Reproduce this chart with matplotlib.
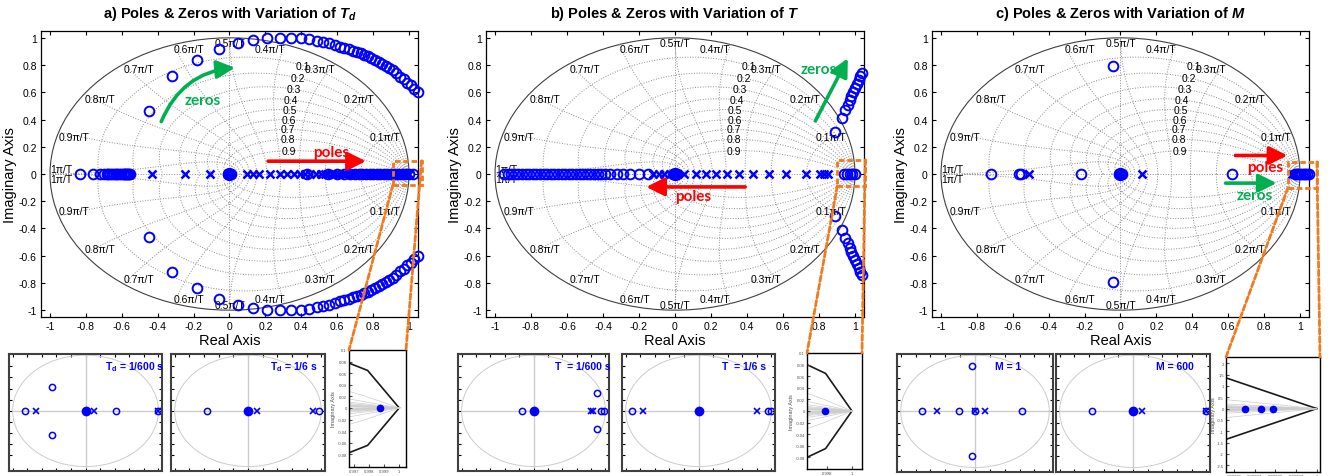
import numpy as np
import matplotlib
matplotlib.use("Agg")
import matplotlib.pyplot as plt
from matplotlib.patches import Rectangle, ConnectionPatch

plt.rcParams['font.family'] = ['Liberation Sans', 'DejaVu Sans']
plt.rcParams['mathtext.fontset'] = 'custom'
plt.rcParams['mathtext.it'] = 'Liberation Sans:italic:bold'
plt.rcParams['mathtext.rm'] = 'Liberation Sans:bold'
plt.rcParams['mathtext.bf'] = 'Liberation Sans:bold'

# ---------------- data ----------------
ZETAS = [0.1, 0.2, 0.3, 0.4, 0.5, 0.6, 0.7, 0.8, 0.9]
WN_FRACS = [0.1, 0.2, 0.3, 0.4, 0.5, 0.6, 0.7, 0.8, 0.9, 1.0]
TICKS = [-1, -0.8, -0.6, -0.4, -0.2, 0, 0.2, 0.4, 0.6, 0.8, 1]

titles = [r"a) Poles & Zeros with Variation of $T_d$",
          r"b) Poles & Zeros with Variation of $T$",
          r"c) Poles & Zeros with Variation of $M$"]

# panel a
a_zero_axis = [-0.83, -0.76, -0.72, -0.70, -0.685, -0.675, -0.665, -0.655, -0.645,
               -0.635, -0.625, -0.615, -0.605, -0.595, -0.588, -0.581, -0.575,
               -0.569, -0.564, -0.559, -0.555,
               -0.01, -0.005, 0.0, 0.005, 0.01,
               0.43, 0.55, 0.60, 0.64, 0.67, 0.70, 0.72, 0.74, 0.76, 0.78, 0.80,
               0.82, 0.84, 0.86, 0.88, 0.90, 0.92, 0.94, 0.96, 0.98, 1.0, 1.02]
a_zero_arc_re = [-0.45, -0.32, -0.18, -0.06, 0.045, 0.13, 0.21, 0.28, 0.345, 0.40,
                 0.445, 0.485, 0.52, 0.555, 0.585, 0.615, 0.64, 0.665, 0.69, 0.71,
                 0.73, 0.75, 0.77, 0.79, 0.81, 0.83, 0.85, 0.87, 0.89, 0.91, 0.93,
                 0.95, 0.97, 0.99, 1.01, 1.03, 1.05]
a_zero_arc_im = [0.46, 0.72, 0.84, 0.92, 0.965, 0.985, 0.995, 1.0, 1.0, 0.995,
                 0.99, 0.98, 0.97, 0.96, 0.95, 0.935, 0.925, 0.915, 0.905, 0.895,
                 0.885, 0.875, 0.865, 0.85, 0.84, 0.825, 0.81, 0.79, 0.775, 0.76,
                 0.74, 0.715, 0.695, 0.67, 0.65, 0.625, 0.60]
a_pole_axis = [-0.43, -0.25, -0.11, 0.0, 0.095, 0.13, 0.165, 0.225, 0.28, 0.32, 0.36,
               0.39, 0.42, 0.45, 0.48, 0.51, 0.53, 0.55, 0.57, 0.59, 0.61, 0.63,
               0.65, 0.67, 0.69, 0.71, 0.73, 0.75, 0.77, 0.79, 0.81, 0.83, 0.85,
               0.87, 0.89, 0.91, 0.93, 0.95, 0.97, 0.99, 1.0]

# panel b
b_zero_axis = [-0.95, -0.93, -0.91, -0.89, -0.87, -0.85, -0.83, -0.81, -0.79, -0.77,
               -0.75, -0.73, -0.71, -0.69, -0.67, -0.65, -0.63, -0.61, -0.59, -0.57,
               -0.55, -0.53, -0.51, -0.49, -0.47, -0.45, -0.43, -0.41, -0.39, -0.36,
               -0.32, -0.29, -0.25, -0.20, -0.15,
               -0.01, -0.005, 0.0, 0.005, 0.01,
               0.94, 0.955, 0.97, 0.985, 1.0]
b_zero_arc_re = [0.89, 0.925, 0.945, 0.96, 0.97, 0.98, 0.99, 1.0, 1.01, 1.02, 1.03, 1.04]
b_zero_arc_im = [0.31, 0.41, 0.47, 0.51, 0.54, 0.57, 0.60, 0.63, 0.66, 0.69, 0.72, 0.745]
b_pole_axis = [-0.12, -0.09, -0.06, -0.03, 0.0, 0.05, 0.115, 0.17, 0.225, 0.29, 0.355,
               0.435, 0.52, 0.615, 0.725, 0.805, 0.83, 0.85]

# panel c
c_zero_axis = [-0.72, -0.565, -0.555, -0.22, -0.01, -0.005, 0.0, 0.005, 0.01, 0.62,
               0.97, 0.98, 0.99, 1.0, 1.01, 1.02, 1.03, 1.04, 1.05]
c_zero_arc_re = [-0.04]
c_zero_arc_im = [0.79]
c_pole_axis = [-0.51, 0.0, 0.12, 0.955, 0.965]

# small insets: zeros (re, im), poles re, filled dot re, label, label x
a1 = dict(zr=[-0.836, -0.46, -0.46, 0.42, 0.99], zi=[0, 0.43, -0.43, 0, 0],
          pr=[-0.675, 0.114, 0.99], dot=[0.0], label=r"T$_\mathrm{d}$ = 1/600 s", lx=0.67)
a2 = dict(zr=[-0.557, 0.97], zi=[0, 0], pr=[0.117, 0.88], dot=[0.0],
          label=r"T$_\mathrm{d}$ = 1/6 s", lx=0.62)
b1 = dict(zr=[-0.16, 0.88, 0.88, 0.94, 0.98], zi=[0, 0.32, -0.32, 0, 0],
          pr=[0.80, 0.83], dot=[0.0], label="T  = 1/600 s", lx=0.68)
b2 = dict(zr=[-0.91, 0.95, 0.99], zi=[0, 0, 0], pr=[-0.76, 0.80], dot=[0.0],
          label="T  = 1/6 s", lx=0.62)
c1 = dict(zr=[-0.72, -0.21, 0.0, 0.63, -0.04, -0.04], zi=[0, 0, 0, 0, 0.8, -0.8],
          pr=[-0.51, 0.0, 0.13], dot=[], label="M = 1", lx=0.45)
c2 = dict(zr=[-0.555, 1.0], zi=[0, 0], pr=[0.12, 1.0], dot=[0.0],
          label="M = 600", lx=0.57)

# zoomed insets
a3_dots = [0.9987]
b3_dots = [0.99786]
c3_dots = [0.999965, 0.999973, 0.999979]

BLUE = '#0000ff'
GREEN = '#00b050'
RED = '#ff0000'
ORANGE = '#f07a1e'

W, H = 1334, 477
fig = plt.figure(figsize=(W / 100, H / 100), dpi=100)


def px_axes(x0, y0, x1, y1):
    return fig.add_axes([x0 / W, 1 - y1 / H, (x1 - x0) / W, (y1 - y0) / H])


def zgrid(ax, ys=1.0, ls=':', gcolor='0.55', glw=0.7, ccolor='0.25', clw=0.8,
          labels=True):
    th = np.linspace(0, 2 * np.pi, 98)
    ax.plot(np.cos(th), np.sin(th) * ys, color=ccolor, lw=clw, zorder=1)
    for zeta in ZETAS:
        w = np.linspace(0, np.pi / np.sqrt(1 - zeta ** 2), 150)
        z = np.exp(w * (-zeta + 1j * np.sqrt(1 - zeta ** 2)))
        ax.plot(z.real, z.imag * ys, ls, color=gcolor, lw=glw, zorder=1)
        ax.plot(z.real, -z.imag * ys, ls, color=gcolor, lw=glw, zorder=1)
    for f in WN_FRACS:
        wn = f * np.pi
        zt = np.linspace(0, 1, 80)
        z = np.exp(wn * (-zt + 1j * np.sqrt(1 - zt ** 2)))
        ax.plot(z.real, z.imag * ys, ls, color=gcolor, lw=glw, zorder=1)
        ax.plot(z.real, -z.imag * ys, ls, color=gcolor, lw=glw, zorder=1)
    ax.plot([-1, 1], [0, 0], ls, color=gcolor, lw=glw, zorder=1)
    ax.plot([0, 0], [-ys, ys], ls, color=gcolor, lw=glw, zorder=1)
    if not labels:
        return
    for zeta in ZETAS:
        wn = 0.35 * np.pi
        z = np.exp(wn * (-zeta + 1j * np.sqrt(1 - zeta ** 2)))
        ax.text(z.real, z.imag, f"{zeta:g}", fontsize=7.5, ha='center', va='center',
                zorder=2)
    for f in WN_FRACS:
        x, y = np.cos(f * np.pi), np.sin(f * np.pi)
        ha = 'center' if abs(x) < 0.05 else ('right' if x > 0 else 'left')
        txt = f"{f:g}\u03c0/T"
        if f == 1.0:
            txt = "1\u03c0/T"
            ax.text(x, 0, txt, fontsize=7.5, ha='left', va='bottom', zorder=2)
            ax.text(x, 0, txt, fontsize=7.5, ha='left', va='top', zorder=2)
        else:
            ax.text(x, y, txt, fontsize=7.5, ha=ha, va='top', zorder=2)
            ax.text(x, -y, txt, fontsize=7.5, ha=ha, va='bottom', zorder=2)


def main_panel(ax, title, zax, zre, zim, pax):
    zgrid(ax)
    ax.plot(zax, np.zeros(len(zax)), 'o', mfc='none', mec=BLUE, ms=7, mew=1.4,
            zorder=3, clip_on=False)
    if zre:
        zr = np.concatenate([zre, zre])
        zi = np.concatenate([zim, -np.asarray(zim)])
        ax.plot(zr, zi, 'o', mfc='none', mec=BLUE, ms=7, mew=1.4, zorder=3,
                clip_on=False)
    ax.plot(pax, np.zeros(len(pax)), 'x', color=BLUE, ms=6, mew=1.8, zorder=3)
    ax.plot([0], [0], 'o', color=BLUE, ms=8.5, zorder=4)
    ax.set_xlim(-1.05, 1.05)
    ax.set_ylim(-1.05, 1.05)
    ax.set_xticks(TICKS)
    ax.set_xticklabels([f"{t:g}" for t in TICKS])
    ax.set_yticks(TICKS)
    ax.set_yticklabels([f"{t:g}" for t in TICKS])
    ax.tick_params(direction='in', top=True, right=True, labelsize=7.5, length=3,
                   pad=3)
    for s in ax.spines.values():
        s.set_linewidth(0.9)
    ax.set_title(title, fontsize=10.5, fontweight='bold', pad=10)
    ax.set_xlabel("Real Axis", fontsize=10.5, labelpad=1)
    ax.set_ylabel("Imaginary Axis", fontsize=10.5, labelpad=1)


def small_panel(ax, d):
    th = np.linspace(0, 2 * np.pi, 200)
    ax.plot(np.cos(th), np.sin(th), color='0.8', lw=0.7)
    ax.plot([-1, 1], [0, 0], color='0.8', lw=1.0)
    ax.plot([0, 0], [-1, 1], color='0.8', lw=1.0)
    ax.plot(d['zr'], d['zi'], 'o', mfc='none', mec=BLUE, ms=4.5, mew=1.1)
    ax.plot(d['pr'], np.zeros(len(d['pr'])), 'x', color=BLUE, ms=4, mew=1.2)
    if d['dot']:
        ax.plot(d['dot'], np.zeros(len(d['dot'])), 'o', color=BLUE, ms=6)
    ax.text(d['lx'], 0.8, d['label'], color=BLUE, fontsize=7.5, fontweight='bold',
            ha='center', va='center')
    ax.set_xlim(-1.05, 1.05)
    ax.set_ylim(-1.08, 1.02)
    ax.set_xticks(TICKS)
    ax.set_yticks(TICKS[1:-1])
    ax.tick_params(direction='in', top=True, right=True, length=2.5,
                   labelbottom=False, labelleft=False, width=0.8)
    for s in ax.spines.values():
        s.set_linewidth(1.5)
        s.set_color('0.25')


def zoom_panel(ax, xlim, ylim, ys, dots, xt, xtl, yt, ytl):
    zgrid(ax, ys=ys, ls='-', gcolor='0.8', glw=0.5, ccolor='0.1', clw=1.2,
          labels=False)
    ax.plot(dots, np.zeros(len(dots)), 'o', color=BLUE, ms=4.5, zorder=3)
    ax.set_xlim(*xlim)
    ax.set_ylim(*ylim)
    ax.set_xticks(xt)
    ax.set_xticklabels(xtl)
    ax.set_yticks(yt)
    ax.set_yticklabels(ytl)
    ax.tick_params(direction='in', labelsize=3, length=2, pad=1.5,
                   colors='0.3')
    ax.set_ylabel("Imaginary Axis", fontsize=4, labelpad=1, color='0.3')
    for s in ax.spines.values():
        s.set_linewidth(1.0)


def connect(ax, rect, inset):
    x0, x1, y0, y1 = rect
    ax.add_patch(Rectangle((x0, y0), x1 - x0, y1 - y0, fill=False, ec=ORANGE,
                           lw=2, ls=(0, (2, 1)), clip_on=False, zorder=6))
    for xyA, xyB in [((x0, y0), (0, 1)), ((x1, y1), (1, 1))]:
        cp = ConnectionPatch(xyA=xyA, coordsA=ax.transData, xyB=xyB,
                             coordsB=inset.transAxes, color=ORANGE, lw=2,
                             ls=(0, (2, 1)), zorder=6)
        fig.add_artist(cp)


# ---------------- main panels ----------------
axA = px_axes(41, 32, 418, 318)
axB = px_axes(486, 32, 864, 318)
axC = px_axes(932, 32, 1309, 318)

main_panel(axA, titles[0], a_zero_axis, a_zero_arc_re, a_zero_arc_im, a_pole_axis)
main_panel(axB, titles[1], b_zero_axis, b_zero_arc_re, b_zero_arc_im, b_pole_axis)
main_panel(axC, titles[2], c_zero_axis, c_zero_arc_re, c_zero_arc_im, c_pole_axis)

arrow = dict(arrowstyle='-|>,head_length=0.9,head_width=0.45', lw=2.6,
             mutation_scale=12, shrinkA=0, shrinkB=0)
# panel a arrows
axA.annotate("", xy=(0.03, 0.78), xytext=(-0.38, 0.385),
             arrowprops=dict(color=GREEN, connectionstyle="arc3,rad=-0.3", **arrow),
             zorder=5)
axA.text(-0.15, 0.54, "zeros", color=GREEN, fontsize=11, fontweight='bold',
         family='Lato', ha='center', va='center', zorder=5)
axA.annotate("", xy=(0.76, 0.094), xytext=(0.215, 0.094),
             arrowprops=dict(color=RED, **arrow), zorder=5)
axA.text(0.565, 0.165, "poles", color=RED, fontsize=11, fontweight='bold',
         family='Lato', ha='center', va='center', zorder=5)
# panel b arrows
axB.annotate("", xy=(0.96, 0.85), xytext=(0.78, 0.39),
             arrowprops=dict(color=GREEN, **arrow), zorder=5)
axB.text(0.80, 0.77, "zeros", color=GREEN, fontsize=11, fontweight='bold',
         family='Lato', ha='center', va='center', zorder=5)
axB.annotate("", xy=(-0.16, -0.095), xytext=(0.39, -0.095),
             arrowprops=dict(color=RED, **arrow), zorder=5)
axB.text(0.10, -0.165, "poles", color=RED, fontsize=11, fontweight='bold',
         family='Lato', ha='center', va='center', zorder=5)
# panel c arrows
axC.annotate("", xy=(0.93, 0.136), xytext=(0.64, 0.136),
             arrowprops=dict(color=RED, **arrow), zorder=5)
axC.text(0.805, 0.05, "poles", color=RED, fontsize=11, fontweight='bold',
         family='Lato', ha='center', va='center', zorder=5)
axC.annotate("", xy=(0.87, -0.067), xytext=(0.585, -0.067),
             arrowprops=dict(color=GREEN, **arrow), zorder=5)
axC.text(0.75, -0.157, "zeros", color=GREEN, fontsize=11, fontweight='bold',
         family='Lato', ha='center', va='center', zorder=5)

# ---------------- insets ----------------
small_panel(px_axes(9, 355, 162, 472), a1)
small_panel(px_axes(171, 355, 325, 472), a2)
small_panel(px_axes(458, 355, 609, 472), b1)
small_panel(px_axes(622, 355, 775, 472), b2)
small_panel(px_axes(897, 355, 1053, 473), c1)
small_panel(px_axes(1056, 355, 1210, 473), c2)

yt = [-0.08, -0.06, -0.04, -0.02, 0, 0.02, 0.04, 0.06, 0.08, 0.1]
ytl = [f"{v:g}" for v in yt]
a3 = px_axes(349, 351, 406, 468)
zoom_panel(a3, (0.99667, 1.00045), (-0.102, 0.1), 1.0, a3_dots,
           [0.997, 0.998, 0.999, 1.0], ["0.997", "0.998", "0.999", "1"], yt, ytl)
b3 = px_axes(807, 354, 862, 470)
zoom_panel(b3, (0.99642, 1.0008), (-0.1, 0.1), 1.0, b3_dots,
           [0.998, 1.0], ["0.998", "1"], yt, ytl)
yt3 = [-2.5, -2, -1.5, -1, -0.5, 0, 0.5, 1, 1.5, 2]
c3 = px_axes(1226, 358, 1320, 473)
zoom_panel(c3, (0.999956, 1.0000016), (-2.8, 2.28), 1000.0, c3_dots,
           [0.99996, 0.99997, 0.99998, 0.99999, 1.0],
           ["0.99996", "0.99997", "0.99998", "0.99999", "1"],
           yt3, [f"{v:g}" for v in yt3])

connect(axA, (0.91, 1.07, -0.08, 0.097), a3)
connect(axB, (0.902, 1.057, -0.086, 0.104), b3)
connect(axC, (0.933, 1.094, -0.10, 0.089), c3)

fig.savefig("out.png", dpi=100)
